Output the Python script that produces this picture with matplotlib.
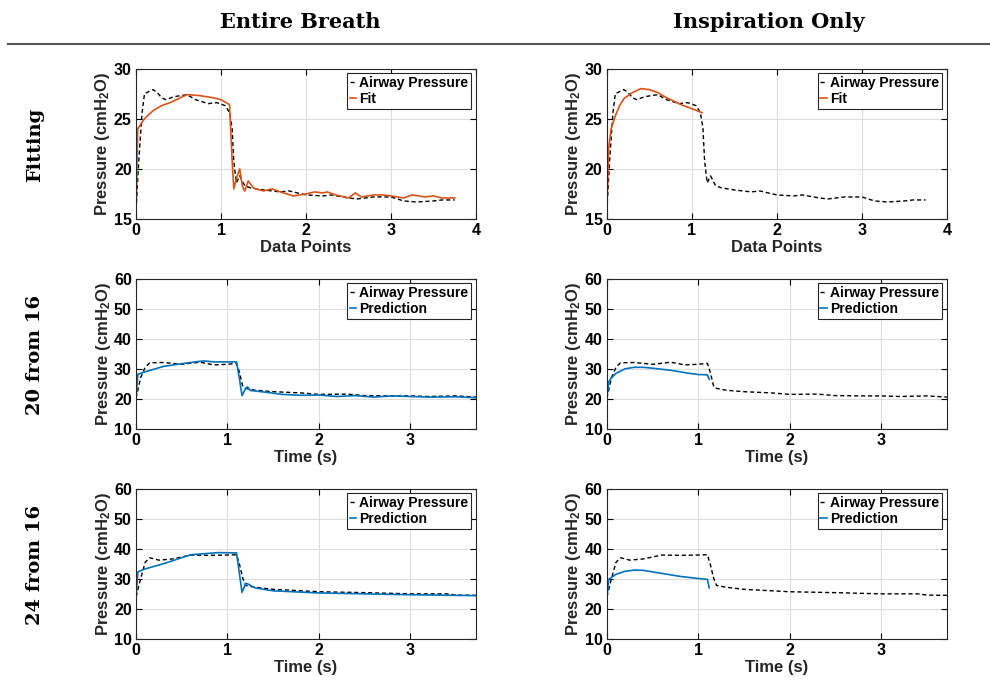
import matplotlib
matplotlib.use("Agg")
import matplotlib.pyplot as plt

plt.rcParams['font.family'] = 'Liberation Sans'
plt.rcParams['font.weight'] = 'bold'
plt.rcParams['axes.labelweight'] = 'bold'
plt.rcParams['mathtext.fontset'] = 'custom'
plt.rcParams['mathtext.rm'] = 'Liberation Sans:bold'
plt.rcParams['mathtext.bf'] = 'Liberation Sans:bold'
plt.rcParams['mathtext.default'] = 'bf'

# ---- measured airway pressure, first breath (fitting) ----
t_fit = [0.0, 0.03, 0.07, 0.1, 0.15, 0.2, 0.25, 0.3, 0.35, 0.45, 0.6, 0.7, 0.85, 0.95,
         1.05, 1.1, 1.13, 1.15, 1.18, 1.22, 1.28, 1.35, 1.5, 1.7, 1.8, 2.0, 2.2, 2.3,
         2.5, 2.6, 2.8, 3.0, 3.15, 3.3, 3.5, 3.6, 3.75]
p_fit = [15.9, 20.5, 25.5, 27.5, 27.7, 27.9, 27.6, 27.1, 26.9, 27.2, 27.4, 26.9, 26.5, 26.6,
         26.3, 25.6, 24.1, 20.8, 18.6, 19.3, 18.3, 18.1, 17.9, 17.7, 17.8, 17.4, 17.3, 17.4,
         17.1, 17.0, 17.2, 17.2, 16.8, 16.7, 16.8, 16.9, 16.9]

# model fit over the entire breath
t_fit_all = [0.0, 0.02, 0.1, 0.2, 0.3, 0.4, 0.5, 0.6, 0.75, 0.9, 1.0, 1.1, 1.13, 1.15,
             1.18, 1.22, 1.25, 1.28, 1.32, 1.38, 1.45, 1.5, 1.6, 1.7, 1.85, 2.0, 2.1,
             2.2, 2.25, 2.35, 2.5, 2.58, 2.65, 2.8, 2.9, 3.0, 3.15, 3.25, 3.4, 3.5, 3.6, 3.75]
fit_all = [15.8, 24.0, 25.0, 25.8, 26.3, 26.6, 27.0, 27.4, 27.3, 27.1, 26.9, 26.4, 21.0, 18.0,
           19.0, 20.0, 18.3, 17.8, 18.8, 18.1, 17.9, 17.8, 18.0, 17.7, 17.3, 17.5, 17.7,
           17.6, 17.7, 17.4, 17.1, 17.6, 17.2, 17.4, 17.4, 17.3, 17.1, 17.4, 17.2, 17.3, 17.1, 17.1]

# model fit over inspiration only
t_fit_insp = [0.0, 0.02, 0.05, 0.1, 0.15, 0.2, 0.3, 0.4, 0.5, 0.6, 0.7, 0.8, 0.9, 1.0, 1.12]
fit_insp = [16.0, 22.0, 24.0, 25.3, 26.3, 27.0, 27.6, 28.0, 27.9, 27.6, 27.1, 26.7, 26.3, 26.0, 25.6]

# ---- measured airway pressure, PEEP 20 breath ----
t_20 = [0.0, 0.05, 0.1, 0.15, 0.3, 0.5, 0.7, 0.85, 1.0, 1.1, 1.13, 1.17, 1.2, 1.3, 1.5,
        1.8, 2.0, 2.3, 2.5, 2.8, 3.0, 3.2, 3.5, 3.72]
p_20 = [20.2, 27.0, 30.5, 32.0, 32.1, 31.5, 32.2, 31.3, 31.5, 31.8, 29.0, 24.0, 23.5, 22.9, 22.4,
        22.0, 21.5, 21.6, 21.1, 21.0, 21.0, 20.8, 21.0, 20.6]

t_20_all = [0.0, 0.02, 0.1, 0.3, 0.5, 0.7, 0.75, 0.85, 1.1, 1.13, 1.16, 1.2, 1.22, 1.25, 1.4,
            1.6, 1.8, 2.0, 2.2, 2.4, 2.6, 2.8, 3.0, 3.2, 3.5, 3.72]
pred_20_all = [20.0, 28.2, 29.0, 30.8, 31.7, 32.5, 32.6, 32.3, 32.3, 27.0, 21.1, 23.5, 24.0, 22.8, 22.3,
               21.5, 21.2, 21.3, 20.8, 21.1, 20.6, 21.0, 20.8, 20.6, 20.7, 20.4]

t_20_insp = [0.0, 0.02, 0.05, 0.1, 0.2, 0.3, 0.4, 0.5, 0.7, 0.9, 1.0, 1.1, 1.12]
pred_20_insp = [20.5, 25.7, 27.0, 28.5, 30.0, 30.5, 30.5, 30.2, 29.5, 28.5, 28.1, 28.0, 26.5]

# ---- measured airway pressure, PEEP 24 breath ----
t_24 = [0.0, 0.05, 0.1, 0.15, 0.25, 0.4, 0.6, 0.8, 1.0, 1.1, 1.13, 1.17, 1.2, 1.3, 1.5,
        2.0, 2.5, 3.0, 3.4, 3.5, 3.72]
p_24 = [24.0, 30.0, 35.5, 37.0, 36.2, 36.6, 37.9, 37.8, 37.9, 38.0, 35.0, 30.0, 27.8, 27.2, 26.5,
        25.7, 25.4, 25.0, 25.0, 24.6, 24.5]

t_24_all = [0.0, 0.02, 0.1, 0.3, 0.6, 0.9, 1.1, 1.13, 1.16, 1.2, 1.23, 1.3, 1.5, 2.0, 2.5,
            3.0, 3.5, 3.72]
pred_24_all = [24.0, 32.3, 33.3, 35.0, 38.0, 38.7, 38.6, 32.0, 25.5, 28.5, 28.2, 27.0, 26.0, 25.3, 25.0,
               24.7, 24.5, 24.4]

t_24_insp = [0.0, 0.02, 0.1, 0.2, 0.3, 0.4, 0.6, 0.8, 1.0, 1.1, 1.12]
pred_24_insp = [24.0, 29.8, 31.5, 32.5, 32.9, 32.8, 31.8, 30.8, 30.1, 29.8, 27.0]

col_titles = ['Entire Breath', 'Inspiration Only']
row_titles = ['Fitting', '20 from 16', '24 from 16']

ORANGE = '#D95319'
BLUE = '#0072BD'
ylab = r'Pressure (cmH$_2$O)'

fig = plt.figure(figsize=(9.9, 6.84), dpi=100)

lefts = [0.1374, 0.613]
bottoms = [0.6798, 0.3728, 0.0658]
w, h = 0.3434, 0.2200

rows = [
    (t_fit, p_fit, [(t_fit_all, fit_all), (t_fit_insp, fit_insp)], 'Fit', ORANGE,
     (15, 30), [15, 20, 25, 30], (0, 4), 'Data Points'),
    (t_20, p_20, [(t_20_all, pred_20_all), (t_20_insp, pred_20_insp)], 'Prediction', BLUE,
     (10, 60), [10, 20, 30, 40, 50, 60], (0, 3.72), 'Time (s)'),
    (t_24, p_24, [(t_24_all, pred_24_all), (t_24_insp, pred_24_insp)], 'Prediction', BLUE,
     (10, 60), [10, 20, 30, 40, 50, 60], (0, 3.72), 'Time (s)'),
]

for r, (tm, pm, models, mlabel, mcol, ylim, yt, xlim, xlab) in enumerate(rows):
    for c in range(2):
        ax = fig.add_axes([lefts[c], bottoms[r], w, h])
        ax.plot(tm, pm, color='black', ls=(0, (3, 2)), lw=1.0, label='Airway Pressure')
        ax.plot(models[c][0], models[c][1], color=mcol, lw=1.2, label=mlabel)
        ax.set_xlim(*xlim)
        ax.set_ylim(*ylim)
        ax.set_yticks(yt)
        ax.set_xticks([0, 1, 2, 3, 4] if xlim[1] == 4 else [0, 1, 2, 3])
        ax.grid(True, color='#dcdcdc', lw=0.8)
        ax.set_axisbelow(True)
        ax.tick_params(direction='in', top=True, right=True, labelsize=11.5,
                       length=4, width=0.8, pad=3)
        for s in ax.spines.values():
            s.set_color('#262626')
            s.set_linewidth(0.8)
        ax.set_xlabel(xlab, fontsize=12, labelpad=1, color='#262626')
        ax.set_ylabel(ylab, fontsize=12, labelpad=1, color='#262626')
        leg = ax.legend(loc='upper right', fontsize=10, fancybox=False, framealpha=1,
                        edgecolor='#262626', handlelength=0.5, handletextpad=0.2,
                        borderpad=0.2, labelspacing=0.15, borderaxespad=0.35)
        leg.get_frame().set_linewidth(0.8)

# column and row headings
col_x = [0.303, 0.777]
for x, txt in zip(col_x, col_titles):
    fig.text(x, 1 - 22 / 684, txt, ha='center', va='center', family='DejaVu Serif',
             fontsize=15, weight='bold')
row_y = [1 - 145 / 684, 1 - 355 / 684, 1 - 565 / 684]
for y, txt in zip(row_y, row_titles):
    fig.text(35 / 990, y, txt, ha='center', va='center', rotation=90,
             family='DejaVu Serif', fontsize=14, weight='bold')

fig.add_artist(plt.Line2D([8 / 990, 1.0], [1 - 44 / 684, 1 - 44 / 684],
                          color='#555555', lw=1.5))

fig.savefig('out.png', dpi=100)
